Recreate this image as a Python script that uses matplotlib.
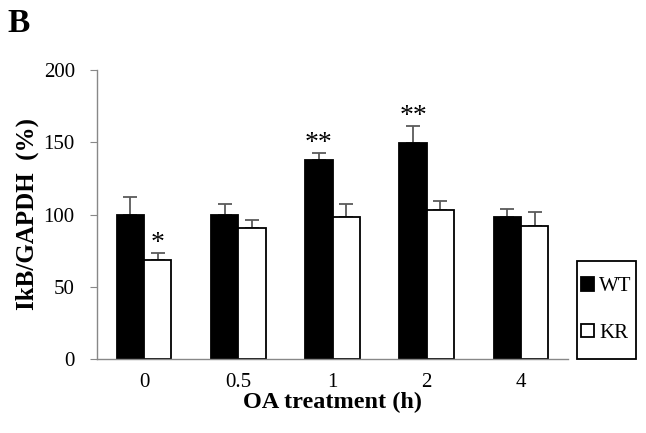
import matplotlib
matplotlib.use("Agg")
import matplotlib.pyplot as plt
from matplotlib.patches import Rectangle
import numpy as np

categories = ["0", "0.5", "1", "2", "4"]
wt_values = [100, 100, 137.5, 149.5, 98]
wt_err = [12, 7, 5, 11.5, 5.5]
kr_values = [68.5, 91, 98.5, 103, 92]
kr_err = [5, 5, 8.5, 6.5, 9.5]
wt_marks = ["", "", "**", "**", ""]
kr_marks = ["*", "", "", "", ""]

plt.rcParams['font.family'] = ['Liberation Serif', 'DejaVu Serif']

fig = plt.figure(figsize=(6.46, 4.33), dpi=100)
ax = fig.add_axes([97/646, 1-359/433, (568-97)/646, (359-70)/433])

x = np.arange(len(categories))
w = 0.29
ax.bar(x - w/2, wt_values, w, color='black', edgecolor='black', linewidth=1.3, label='WT', zorder=2)
ax.bar(x + w/2, kr_values, w, color='white', edgecolor='black', linewidth=1.3, label='KR', zorder=2)
ax.errorbar(x - w/2, wt_values, yerr=[np.zeros(5), wt_err], fmt='none', ecolor='#5a5a5a', elinewidth=1.3, capsize=5, capthick=1.3, zorder=1)
ax.errorbar(x + w/2, kr_values, yerr=[np.zeros(5), kr_err], fmt='none', ecolor='#5a5a5a', elinewidth=1.3, capsize=5, capthick=1.3, zorder=1)

for i in range(len(categories)):
    if wt_marks[i]:
        ax.text(x[i] - w/2, wt_values[i] + wt_err[i] + 2, wt_marks[i], ha='center', va='baseline', fontsize=20)
    if kr_marks[i]:
        ax.text(x[i] + w/2, kr_values[i] + kr_err[i] + 2, kr_marks[i], ha='center', va='baseline', fontsize=20)

ax.set_xlim(-0.5, 4.5)
ax.set_ylim(0, 200)
ax.set_yticks([0, 50, 100, 150, 200])
ax.set_xticks(x)
ax.set_xticklabels(categories)
ax.tick_params(axis='x', length=0, labelsize=15, pad=10)
ax.tick_params(axis='y', length=5, color='#888888', labelsize=15, pad=11)
for s in ['top', 'right']:
    ax.spines[s].set_visible(False)
for s in ['left', 'bottom']:
    ax.spines[s].set_color('#888888')
    ax.spines[s].set_linewidth(1)

ax.set_ylabel("IkB/GAPDH  (%)", fontsize=18, fontweight='bold', labelpad=3)
ax.set_xlabel("OA treatment (h)", fontsize=17.5, fontweight='bold', labelpad=0)

leg = ax.legend(loc='center', bbox_to_anchor=((606.5-97)/471, (359-310)/289),
                frameon=False, fontsize=15, handlelength=0.6, handleheight=0.6,
                handletextpad=0.25, labelspacing=1.3, borderaxespad=0, borderpad=0)
fig.patches.append(Rectangle((577/646, 1-359/433), 59/646, 98/433, transform=fig.transFigure,
                             fill=False, edgecolor='black', linewidth=1.3))

fig.text(7/646, 1-32/433, "B", fontsize=24, fontweight='bold', va='baseline')

fig.savefig("out.png", dpi=100)
